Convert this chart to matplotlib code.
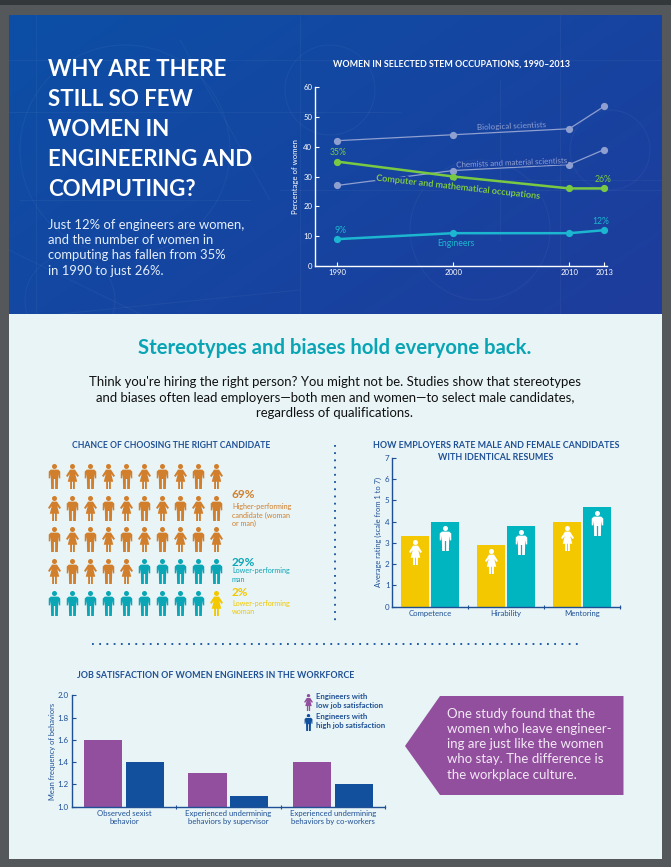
#!/usr/bin/env python
import numpy as np
import matplotlib
matplotlib.use('Agg')
import matplotlib.pyplot as plt
from matplotlib.path import Path
from matplotlib.patches import Rectangle, Polygon, Circle
from matplotlib.colors import LinearSegmentedColormap
import matplotlib.patheffects as pe

plt.rcParams['font.family'] = ['Lato', 'DejaVu Sans']

W, H = 671, 867

## line chart data
years = [1990, 2000, 2010, 2013]
bio = [42, 44, 46, 53.5]
chem = [27, 32, 34, 39]
comp = [35, 30, 26, 26]
eng = [9, 11, 11, 12]
line_yticks = [0, 10, 20, 30, 40, 50, 60]

## pictogram data, m = man, f = woman, o/t/y = orange/teal/yellow
icon_rows = [
    ['m', 'f', 'm', 'f', 'm', 'f', 'm', 'f', 'm', 'f'],
    ['f', 'm', 'f', 'm', 'f', 'm', 'f', 'm', 'f', 'm'],
    ['m', 'f', 'm', 'f', 'm', 'f', 'm', 'f', 'm', 'f'],
    ['f', 'm', 'f', 'm', 'f', 'm', 'm', 'm', 'm', 'm'],
    ['m', 'm', 'm', 'm', 'm', 'm', 'm', 'm', 'm', 'f'],
]
icon_groups = [
    'oooooooooo',
    'oooooooooo',
    'oooooooooo',
    'ooooottttt',
    'ttttttttty',
]

## resume ratings
rate_cats = ['Competence', 'Hirability', 'Mentoring']
rate_female = [3.3, 2.9, 4.0]
rate_male = [4.0, 3.8, 4.7]

## job satisfaction
sat_cats = ['Observed sexist\nbehavior',
            'Experienced undermining\nbehaviors by supervisor',
            'Experienced undermining\nbehaviors by co-workers']
sat_low = [1.6, 1.3, 1.4]
sat_high = [1.4, 1.1, 1.2]
sat_yticks = [1.0, 1.2, 1.4, 1.6, 1.8, 2.0]

NAVY = '#1f5096'
ORANGE = '#d17f2c'
TEAL = '#0ba6b6'
YELLOW = '#f3c800'
BARTEAL = '#00b4c0'
PURPLE = '#914f9d'
BLUE = '#12509e'
GREEN = '#7ac943'
GREY = '#8f9fd0'
LINETEAL = '#1cb6d0'


def px_axes(fig, left, top, right, bottom):
    # axes placed by pixel edges, y measured from the top of the image
    ax = fig.add_axes([left / W, 1 - bottom / H, (right - left) / W, (bottom - top) / H])
    ax.patch.set_alpha(0)
    return ax


def man_marker():
    head = Path.circle((0, 0.8), 0.2)
    body = Path([(-0.3, 0.55), (0.3, 0.55), (0.46, 0.4), (0.46, -0.15), (0.35, -0.15),
                 (0.3, 0.2), (0.27, -1), (0.05, -1), (0.05, -0.2), (-0.05, -0.2), (-0.05, -1),
                 (-0.27, -1), (-0.3, 0.2), (-0.35, -0.15), (-0.46, -0.15), (-0.46, 0.4),
                 (-0.3, 0.55)], closed=True)
    return Path.make_compound_path(head, body)


def woman_marker():
    head = Path.circle((0, 0.8), 0.2)
    body = Path([(-0.2, 0.55), (0.2, 0.55), (0.52, 0.05), (0.4, -0.04), (0.22, 0.2),
                 (0.38, -0.42), (0.19, -0.42), (0.19, -1), (0.04, -1), (0.04, -0.42),
                 (-0.04, -0.42), (-0.04, -1), (-0.19, -1), (-0.19, -0.42), (-0.38, -0.42),
                 (-0.22, 0.2), (-0.4, -0.04), (-0.52, 0.05), (-0.2, 0.55)], closed=True)
    return Path.make_compound_path(head, body)


MAN = man_marker()
WOMAN = woman_marker()

fig = plt.figure(figsize=(W / 100, H / 100), dpi=100, facecolor='#55585a')

## page, header and all the loose text live on one pixel axes
bg = fig.add_axes([0, 0, 1, 1])
bg.set_xlim(0, W)
bg.set_ylim(H, 0)
bg.axis('off')
bg.add_patch(Rectangle((0, 0), W, 5, color='#33383a', lw=0))
bg.add_patch(Rectangle((9, 314), 653, 545, color='#e8f4f6', lw=0))

grad = np.linspace(0, 1, 200)[None, :] * 0.6 + np.linspace(0, 1, 200)[:, None] * 0.4
cmap = LinearSegmentedColormap.from_list('hdr', ['#0c4fa6', '#1e3c9c'])
im = bg.imshow(grad, extent=(9, 662, 314, 15), cmap=cmap, aspect='auto', zorder=1)
bg.set_xlim(0, W)
bg.set_ylim(H, 0)

# faint blueprint lines behind the header
clip = Rectangle((9, 15), 653, 299, transform=bg.transData)
faint = dict(color='white', alpha=0.04, lw=0.8, zorder=2)
for cx, cy, r in [(125, 150, 105), (330, 90, 45), (480, 230, 70), (610, 150, 40), (70, 300, 45)]:
    c = Circle((cx, cy), r, fill=False, **faint)
    bg.add_patch(c)
    c.set_clip_path(clip)
for x0, y0, x1, y1 in [(9, 60, 662, 60), (9, 112, 400, 112), (280, 190, 662, 190), (36, 15, 36, 314),
                       (180, 40, 270, 200), (560, 15, 560, 314), (9, 250, 140, 314), (60, 314, 300, 290),
                       (500, 80, 500, 240), (20, 200, 250, 200), (480, 180, 662, 180), (300, 15, 300, 314)]:
    l, = bg.plot([x0, x1], [y0, y1], **faint)
    l.set_clip_path(clip)

title_lines = ['WHY ARE THERE', 'STILL SO FEW', 'WOMEN IN', 'ENGINEERING AND', 'COMPUTING?']
for i, s in enumerate(title_lines):
    bg.text(48, 69 + 30 * i, s, color='white', fontsize=16, fontweight='bold', va='center', zorder=3)
sub_lines = ['Just 12% of engineers are women,', 'and the number of women in',
             'computing has fallen from 35%', 'in 1990 to just 26%.']
for i, s in enumerate(sub_lines):
    bg.text(48, 225 + 15.2 * i, s, color='#e4eefa', fontsize=9.4, va='center', zorder=3)

bg.text(335, 348, 'Stereotypes and biases hold everyone back.', color='#0aa5b5', fontsize=14.6,
        fontweight='bold', ha='center', va='center')
body_lines = ["Think you're hiring the right person? You might not be. Studies show that stereotypes",
              'and biases often lead employers\u2014both men and women\u2014to select male candidates,',
              'regardless of qualifications.']
for i, s in enumerate(body_lines):
    bg.text(335, 382 + 15.5 * i, s, color='#111111', fontsize=9.45, ha='center', va='center')

bg.text(171, 446, 'CHANCE OF CHOOSING THE RIGHT CANDIDATE', color=NAVY, fontsize=6.2,
        fontweight='bold', ha='center', va='center')
bg.text(496, 446, 'HOW EMPLOYERS RATE MALE AND FEMALE CANDIDATES', color=NAVY, fontsize=6.4,
        fontweight='bold', ha='center', va='center')
bg.text(496, 457, 'WITH IDENTICAL RESUMES', color=NAVY, fontsize=6.4,
        fontweight='bold', ha='center', va='center')
bg.text(216, 676, 'JOB SATISFACTION OF WOMEN ENGINEERS IN THE WORKFORCE', color=NAVY, fontsize=6.4,
        fontweight='bold', ha='center', va='center')

# dotted separators
bg.plot([335, 335], [445, 622], color=BLUE, lw=1.3, ls=(0, (1, 3)), zorder=2)
bg.plot([92, 578], [644, 644], color=BLUE, lw=1.3, ls=(0, (1, 3)), zorder=2)

# pictogram side labels
bg.text(232, 494, '69%', color=ORANGE, fontsize=8.5, fontweight='bold', va='center')
for i, s in enumerate(['Higher-performing', 'candidate (woman', 'or man)']):
    bg.text(232, 506.5 + 8.5 * i, s, color=ORANGE, fontsize=5.2, va='center')
bg.text(232, 562, '29%', color=TEAL, fontsize=8.5, fontweight='bold', va='center')
for i, s in enumerate(['Lower-performing', 'man']):
    bg.text(232, 570.5 + 8.5 * i, s, color=TEAL, fontsize=5.2, va='center')
bg.text(232, 593, '2%', color=YELLOW, fontsize=8.5, fontweight='bold', va='center')
for i, s in enumerate(['Lower-performing', 'woman']):
    bg.text(232, 603.5 + 8.5 * i, s, color=YELLOW, fontsize=5.2, va='center')

# legend of the satisfaction chart
bg.scatter([308], [702], marker=WOMAN, s=150, color=PURPLE, lw=0, zorder=3)
bg.scatter([308], [722], marker=MAN, s=150, color=BLUE, lw=0, zorder=3)
for y, s in [(697, 'Engineers with'), (705.5, 'low job satisfaction'),
             (717, 'Engineers with'), (725.5, 'high job satisfaction')]:
    bg.text(316, y, s, color=NAVY, fontsize=5.6, fontweight='bold', va='center')

# purple callout
bg.add_patch(Polygon([(405, 746), (440, 696), (623.5, 696), (623.5, 795), (440, 795)],
                     closed=True, color=PURPLE, lw=0, zorder=2))
call_lines = ['One study found that the', 'women who leave engineer-', 'ing are just like the women',
              'who stay. The difference is', 'the workplace culture.']
for i, s in enumerate(call_lines):
    bg.text(447, 713.5 + 15.3 * i, s, color='#f3e8f5', fontsize=9.5, va='center', zorder=3)

## line chart
bg.text(451.5, 64.5, 'WOMEN IN SELECTED STEM OCCUPATIONS, 1990\u20132013', color='white', fontsize=6.4,
        fontweight='bold', ha='center', va='center', zorder=3)
ax1 = px_axes(fig, 315, 87, 607, 266)
ax1.set_xlim(1988.1, 2013.25)
ax1.set_ylim(0, 60)
ax1.plot(years, bio, color=GREY, lw=0.9, marker='o', ms=5.2, mew=0, clip_on=False)
ax1.plot(years, chem, color=GREY, lw=0.9, marker='o', ms=5.2, mew=0, clip_on=False)
ax1.plot(years, comp, color=GREEN, lw=1.8, marker='o', ms=5.2, mew=0, clip_on=False)
ax1.plot(years, eng, color=LINETEAL, lw=1.8, marker='o', ms=5.2, mew=0, clip_on=False)
ax1.set_xticks(years)
ax1.set_yticks(line_yticks)
ax1.tick_params(colors='white', labelsize=5.6, direction='in', length=3, width=0.8, pad=2)
ax1.set_ylabel('Percentage of women', color='white', fontsize=5.6, labelpad=3)
for side in ['top', 'right']:
    ax1.spines[side].set_visible(False)
for side in ['left', 'bottom']:
    ax1.spines[side].set_color('white')
    ax1.spines[side].set_linewidth(1)
ax1.text(2005, 46.8, 'Biological scientists', color=GREY, fontsize=5.8, rotation=2.3, ha='center', va='center')
ax1.text(2005, 34.6, 'Chemists and material scientists', color=GREY, fontsize=5.7, rotation=2.3,
         ha='center', va='center', path_effects=[pe.withStroke(linewidth=2, foreground='#1a419f')])
ax1.text(2000.4, 26.4, 'Computer and mathematical occupations', color=GREEN, fontsize=6.5, fontweight='bold',
         rotation=-6.4, ha='center', va='center',
         path_effects=[pe.withStroke(linewidth=3, foreground='#1a419f')])
ax1.text(2000.2, 7.5, 'Engineers', color=LINETEAL, fontsize=6.2, ha='center', va='center')
ax1.text(1990.1, 38.2, '35%', color=GREEN, fontsize=6.2, ha='center', va='center')
ax1.text(2012.9, 29, '26%', color=GREEN, fontsize=6.2, ha='center', va='center')
ax1.text(1990.3, 12, '9%', color=LINETEAL, fontsize=6.2, ha='center', va='center')
ax1.text(2012.7, 15, '12%', color=LINETEAL, fontsize=6.2, ha='center', va='center')

## pictogram
ax2 = px_axes(fig, 45, 460.2, 225, 618.5)
ax2.set_xlim(-0.5, 9.5)
ax2.set_ylim(4.5, -0.5)
ax2.axis('off')
group_colors = {'o': ORANGE, 't': TEAL, 'y': YELLOW}
for r, row in enumerate(icon_rows):
    for c, kind in enumerate(row):
        ax2.scatter(c, r, marker=MAN if kind == 'm' else WOMAN, s=324,
                    color=group_colors[icon_groups[r][c]], lw=0)

## resume ratings bars
ax3 = px_axes(fig, 392.3, 457.7, 620, 606.7)
pos = np.arange(len(rate_cats))
ax3.bar(pos - 0.2, rate_female, width=0.37, color=YELLOW)
ax3.bar(pos + 0.2, rate_male, width=0.37, color=BARTEAL)
ax3.scatter(pos - 0.2, np.array(rate_female) - 0.75, marker=WOMAN, s=324, color='white', lw=0, zorder=3)
ax3.scatter(pos + 0.2, np.array(rate_male) - 0.75, marker=MAN, s=324, color='white', lw=0, zorder=3)
ax3.set_xlim(-0.5, 2.5)
ax3.set_ylim(0, 7)
ax3.set_yticks(range(8))
ax3.set_xticks(pos, labels=rate_cats)
ax3.set_xticks([0.5, 1.5, 2.5], minor=True)
ax3.tick_params(axis='x', which='major', length=0, labelsize=5.6, labelcolor=NAVY, pad=2.5)
ax3.tick_params(axis='x', which='minor', direction='inout', length=3, width=0.8, color=NAVY)
ax3.tick_params(axis='y', direction='in', length=3, width=0.8, color=NAVY, labelcolor=NAVY, labelsize=5.8, pad=2)
ax3.set_ylabel('Average rating (scale from 1 to 7)', color=NAVY, fontsize=5.4, labelpad=2)
for side in ['top', 'right']:
    ax3.spines[side].set_visible(False)
for side in ['left', 'bottom']:
    ax3.spines[side].set_color(NAVY)
    ax3.spines[side].set_linewidth(1)

## job satisfaction bars
ax4 = px_axes(fig, 71.7, 695.3, 385, 806.7)
pos = np.arange(len(sat_cats))
ax4.bar(pos - 0.2, sat_low, width=0.365, color=PURPLE)
ax4.bar(pos + 0.2, sat_high, width=0.365, color=BLUE)
ax4.set_xlim(-0.5, 2.5)
ax4.set_ylim(1.0, 2.0)
ax4.set_yticks(sat_yticks)
ax4.set_xticks(pos, labels=sat_cats)
ax4.set_xticks([0.5, 1.5, 2.5], minor=True)
ax4.tick_params(axis='x', which='major', length=0, labelsize=5.6, labelcolor=NAVY, pad=2.5)
ax4.tick_params(axis='x', which='minor', direction='inout', length=3, width=0.8, color=NAVY)
ax4.tick_params(axis='y', direction='in', length=3, width=0.8, color=NAVY, labelcolor=NAVY, labelsize=5.8, pad=2)
ax4.set_ylabel('Mean frequency of behaviors', color=NAVY, fontsize=5.4, labelpad=1)
for side in ['top', 'right']:
    ax4.spines[side].set_visible(False)
for side in ['left', 'bottom']:
    ax4.spines[side].set_color(NAVY)
    ax4.spines[side].set_linewidth(1)

fig.savefig('out.png', dpi=100)
